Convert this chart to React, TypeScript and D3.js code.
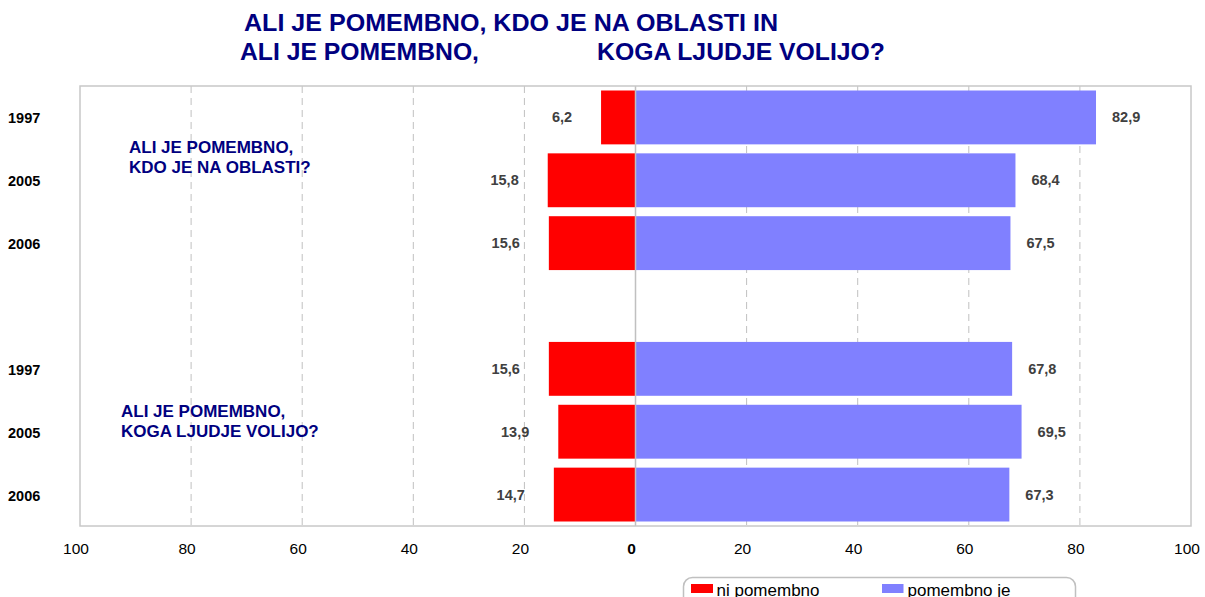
import React from "react";
import * as d3 from "d3";

const years = ["1997", "2005", "2006", "1997", "2005", "2006"];
const rowSlots = [0, 1, 2, 4, 5, 6];
const niPomembno = [6.2, 15.8, 15.6, 15.6, 13.9, 14.7];
const pomembnoJe = [82.9, 68.4, 67.5, 67.8, 69.5, 67.3];
const tickValues = [-100, -80, -60, -40, -20, 0, 20, 40, 60, 80, 100];
const gridValues = [-80, -60, -40, -20, 20, 40, 60, 80];
const seriesNames = ["ni pomembno", "pomembno je"];
const colors = ["#FF0000", "#8080FF"];
const fmt = (v: number) => v.toFixed(1).replace(".", ",");

export default function App() {
  const W = 1205, H = 597;
  const left = 80, right = 1191, top = 86, bottom = 526;
  const x = d3.scaleLinear().domain([-100, 100]).range([left, right]);
  const y = d3.scaleBand<number>().domain(d3.range(7)).range([top, bottom]).paddingInner(0.143).paddingOuter(0.0715);
  const navy = "#000080";
  const font = "Liberation Sans, Arial, sans-serif";
  const bw = y.bandwidth();
  return (
    <svg width={W} height={H} style={{ position: "absolute", left: 0, top: 0, background: "#fff" }} fontFamily={font}>
      <rect x={0} y={0} width={W} height={H} fill="#fff" />
      {/* title */}
      <text x={244} y={31} fontSize={23} fontWeight="bold" fill={navy} textLength={534} lengthAdjust="spacingAndGlyphs">ALI JE POMEMBNO, KDO JE NA OBLASTI IN</text>
      <text x={240} y={60} fontSize={23} fontWeight="bold" fill={navy} textLength={239} lengthAdjust="spacingAndGlyphs">ALI JE POMEMBNO,</text>
      <text x={597} y={60} fontSize={23} fontWeight="bold" fill={navy} textLength={288} lengthAdjust="spacingAndGlyphs">KOGA LJUDJE VOLIJO?</text>

      {/* gridlines */}
      {gridValues.map((g) => (
        <line key={g} x1={x(g)} x2={x(g)} y1={top} y2={bottom} stroke="#c0c0c0" strokeWidth={1} strokeDasharray="7,5" />
      ))}

      {/* bars */}
      {years.map((yr, i) => {
        const yy = y(rowSlots[i])!;
        return (
          <g key={i}>
            <rect x={x(-niPomembno[i])} y={yy} width={x(0) - x(-niPomembno[i])} height={bw} fill={colors[0]} />
            <rect x={x(0)} y={yy} width={x(pomembnoJe[i]) - x(0)} height={bw} fill={colors[1]} />
            <text x={x(-niPomembno[i]) - 29} y={yy + bw / 2 + 5} fontSize={14.5} fontWeight="bold" fill="#404040" textAnchor="end">{fmt(niPomembno[i])}</text>
            <text x={x(pomembnoJe[i]) + 16} y={yy + bw / 2 + 5} fontSize={14.5} fontWeight="bold" fill="#404040">{fmt(pomembnoJe[i])}</text>
            <text x={8} y={yy + bw / 2 + 6} fontSize={14.5} fontWeight="bold" fill="#000">{yr}</text>
          </g>
        );
      })}

      {/* zero line */}
      <line x1={x(0)} x2={x(0)} y1={top} y2={bottom} stroke="#c0c0c0" strokeWidth={1.5} />
      {/* plot border */}
      <rect x={left} y={top} width={right - left} height={bottom - top} fill="none" stroke="#c8c8c8" strokeWidth={1.5} />

      {/* group annotations */}
      <text x={129} y={153} fontSize={17} fontWeight="bold" fill={navy}>ALI JE POMEMBNO,</text>
      <text x={129} y={173} fontSize={17} fontWeight="bold" fill={navy}>KDO JE NA OBLASTI?</text>
      <text x={121} y={417} fontSize={17} fontWeight="bold" fill={navy}>ALI JE POMEMBNO,</text>
      <text x={121} y={437} fontSize={17} fontWeight="bold" fill={navy}>KOGA LJUDJE VOLIJO?</text>

      {/* axis tick labels */}
      {tickValues.map((t) => (
        <text key={t} x={x(t) - 4} y={554} fontSize={15.5} textAnchor="middle" fill="#000" fontWeight={t === 0 ? "bold" : "normal"}>{Math.abs(t)}</text>
      ))}

      {/* legend */}
      <rect x={683.5} y={577.5} width={392} height={40} rx={9} ry={9} fill="#fff" stroke="#c0c0c0" strokeWidth={1.5} />
      <rect x={691} y={584} width={22} height={9} fill={colors[0]} />
      <text x={716.5} y={596} fontSize={17} fill="#000">{seriesNames[0]}</text>
      <rect x={882} y={584} width={21.5} height={9} fill={colors[1]} />
      <text x={907.5} y={596} fontSize={17} fill="#000">{seriesNames[1]}</text>
    </svg>
  );
}
